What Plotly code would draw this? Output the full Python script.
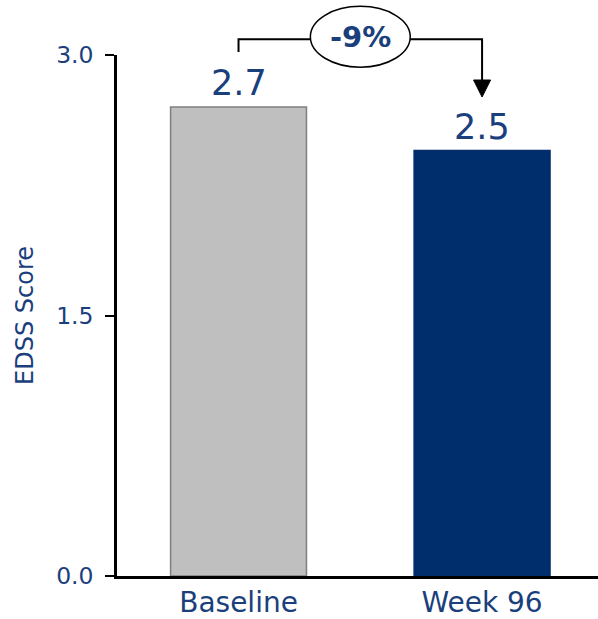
import plotly.graph_objects as go

# EDSS score at each visit
visits = ["Baseline", "Week 96"]
edss = [2.7, 2.45]
bar_colors = ["#BFBFBF", "#002D6B"]
edge_colors = ["#7F7F7F", "#002D6B"]
y_ticks = [0.0, 1.5, 3.0]

NAVY = "#1B3F7C"
FONT = "DejaVu Sans, sans-serif"

W, H = 598, 619
ML, MR, MT, MB = 117, 0, 55, 43
X_RANGE = [-0.499, 1.476]
Y_RANGE = [0, 3.0]

pct = round((edss[1] / edss[0] - 1) * 100)


def px_x(v):
    return (v - X_RANGE[0]) / (X_RANGE[1] - X_RANGE[0])


def px_y(v):
    return (v - Y_RANGE[0]) / (Y_RANGE[1] - Y_RANGE[0])


fig = go.Figure(
    go.Bar(
        x=[0, 1],
        y=edss,
        width=0.558,
        marker=dict(color=bar_colors, line=dict(color=edge_colors, width=1.5)),
        hoverinfo="skip",
    )
)

# value labels above each bar
for i, v in enumerate(edss):
    fig.add_annotation(
        x=i, y=v, text=f"{v:.1f}", showarrow=False,
        xanchor="center", yanchor="bottom", yshift=2,
        font=dict(family=FONT, size=35, color=NAVY),
    )

# change bracket between the two bars
top = 3.09
left_stem = 3.017
tip = 2.758
head = 0.098
line_style = dict(color="black", width=2)
xl, xr = px_x(0), px_x(1)
yt = px_y(top)
fig.add_shape(type="path", xref="paper", yref="paper",
              path=f"M {xl} {px_y(left_stem)} L {xl} {yt} L {xr} {yt} L {xr} {px_y(tip + head)}",
              line=line_style)
hw = 0.0177
fig.add_shape(type="path", xref="paper", yref="paper",
              path=f"M {xr - hw} {px_y(tip + head)} L {xr + hw} {px_y(tip + head)} L {xr} {px_y(tip)} Z",
              fillcolor="black", line=dict(color="black", width=1))

cx, cy = 0.5, 3.105
rx, ry = 0.205, 0.175
fig.add_shape(type="circle", xref="paper", yref="paper",
              x0=px_x(cx - rx), x1=px_x(cx + rx), y0=px_y(cy - ry), y1=px_y(cy + ry),
              fillcolor="white", line=dict(color="black", width=1.5))
fig.add_annotation(xref="paper", yref="paper", x=px_x(cx), y=px_y(cy),
                   xanchor="center", yanchor="middle",
                   text=f"<b>{pct}%</b>", showarrow=False,
                   font=dict(family=FONT, size=29, color=NAVY))

fig.update_layout(
    width=W, height=H,
    margin=dict(l=ML, r=MR, t=MT, b=MB, autoexpand=False),
    paper_bgcolor="white", plot_bgcolor="white",
    showlegend=False,
    font=dict(family=FONT, color=NAVY),
    xaxis=dict(
        range=X_RANGE, tickvals=[0, 1], ticktext=visits,
        showgrid=False, zeroline=False, showline=True, automargin=False,
        linecolor="black", linewidth=2.5, ticks="",
        tickfont=dict(size=28, color=NAVY), ticklabelstandoff=0,
    ),
    yaxis=dict(
        range=Y_RANGE, tickvals=y_ticks, tickformat=".1f",
        showgrid=False, zeroline=False, showline=True, automargin=False,
        linecolor="black", linewidth=2.5,
        ticks="outside", ticklen=9, tickwidth=2, tickcolor="black",
        tickfont=dict(size=23.5, color=NAVY), ticklabelstandoff=7,
        title=dict(text="EDSS Score", font=dict(size=24, color=NAVY), standoff=16),
    ),
)

fig.write_html("out.html")
